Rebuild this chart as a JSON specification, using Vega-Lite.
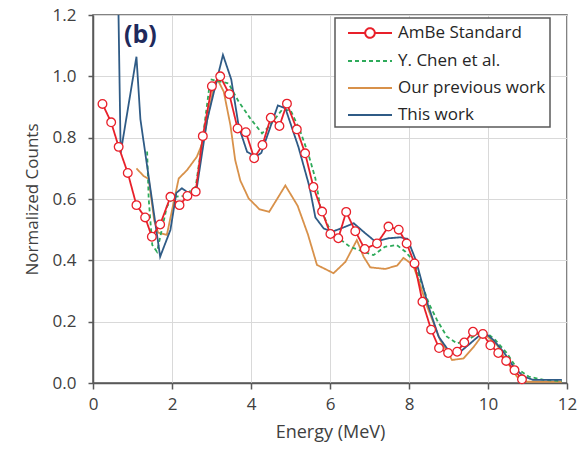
{
  "$schema": "https://vega.github.io/schema/vega-lite/v6.json",
  "width": 474,
  "height": 368,
  "autosize": {"type": "none"},
  "padding": {"left": 93, "top": 15, "right": 14, "bottom": 71},
  "background": "white",
  "config": {
    "font": "Open Sans",
    "view": {"stroke": "#595959", "strokeWidth": 1.5},
    "axis": {
      "domainColor": "#595959",
      "domainWidth": 1.5,
      "tickColor": "#595959",
      "tickWidth": 1.5,
      "gridColor": "#d9d9d9",
      "gridWidth": 1,
      "labelFontSize": 17,
      "labelColor": "#404040",
      "labelFlush": false,
      "labelOverlap": false,
      "labelBound": false,
      "titleFontSize": 17,
      "titleFontWeight": "normal",
      "titleColor": "#404040"
    }
  },
  "datasets": {
    "curves": [
      {"series": "Our previous work", "energy": 1.10, "counts": 0.70},
      {"series": "Our previous work", "energy": 1.28, "counts": 0.675},
      {"series": "Our previous work", "energy": 1.41, "counts": 0.665},
      {"series": "Our previous work", "energy": 1.55, "counts": 0.53},
      {"series": "Our previous work", "energy": 1.65, "counts": 0.49},
      {"series": "Our previous work", "energy": 1.87, "counts": 0.483},
      {"series": "Our previous work", "energy": 2.17, "counts": 0.667},
      {"series": "Our previous work", "energy": 2.38, "counts": 0.694},
      {"series": "Our previous work", "energy": 2.63, "counts": 0.738},
      {"series": "Our previous work", "energy": 2.80, "counts": 0.792},
      {"series": "Our previous work", "energy": 2.89, "counts": 0.857},
      {"series": "Our previous work", "energy": 3.05, "counts": 0.96},
      {"series": "Our previous work", "energy": 3.16, "counts": 0.988},
      {"series": "Our previous work", "energy": 3.31, "counts": 0.95},
      {"series": "Our previous work", "energy": 3.48, "counts": 0.84},
      {"series": "Our previous work", "energy": 3.60, "counts": 0.727},
      {"series": "Our previous work", "energy": 3.73, "counts": 0.66},
      {"series": "Our previous work", "energy": 3.94, "counts": 0.602},
      {"series": "Our previous work", "energy": 4.21, "counts": 0.567},
      {"series": "Our previous work", "energy": 4.46, "counts": 0.558},
      {"series": "Our previous work", "energy": 4.87, "counts": 0.644},
      {"series": "Our previous work", "energy": 5.18, "counts": 0.578},
      {"series": "Our previous work", "energy": 5.44, "counts": 0.485},
      {"series": "Our previous work", "energy": 5.67, "counts": 0.385},
      {"series": "Our previous work", "energy": 6.09, "counts": 0.358},
      {"series": "Our previous work", "energy": 6.39, "counts": 0.395},
      {"series": "Our previous work", "energy": 6.68, "counts": 0.466},
      {"series": "Our previous work", "energy": 6.85, "counts": 0.412},
      {"series": "Our previous work", "energy": 7.02, "counts": 0.377},
      {"series": "Our previous work", "energy": 7.40, "counts": 0.372},
      {"series": "Our previous work", "energy": 7.70, "counts": 0.383},
      {"series": "Our previous work", "energy": 7.86, "counts": 0.408},
      {"series": "Our previous work", "energy": 8.10, "counts": 0.385},
      {"series": "Our previous work", "energy": 8.24, "counts": 0.336},
      {"series": "Our previous work", "energy": 8.46, "counts": 0.249},
      {"series": "Our previous work", "energy": 8.79, "counts": 0.14},
      {"series": "Our previous work", "energy": 9.09, "counts": 0.075},
      {"series": "Our previous work", "energy": 9.38, "counts": 0.08},
      {"series": "Our previous work", "energy": 9.64, "counts": 0.118},
      {"series": "Our previous work", "energy": 9.89, "counts": 0.162},
      {"series": "Our previous work", "energy": 10.23, "counts": 0.124},
      {"series": "Our previous work", "energy": 10.48, "counts": 0.069},
      {"series": "Our previous work", "energy": 10.73, "counts": 0.021},
      {"series": "Our previous work", "energy": 10.99, "counts": 0.004},
      {"series": "Our previous work", "energy": 11.87, "counts": 0.004},

      {"series": "Y. Chen et al.", "energy": 1.37, "counts": 0.755},
      {"series": "Y. Chen et al.", "energy": 1.41, "counts": 0.6},
      {"series": "Y. Chen et al.", "energy": 1.50, "counts": 0.45},
      {"series": "Y. Chen et al.", "energy": 1.62, "counts": 0.428},
      {"series": "Y. Chen et al.", "energy": 1.87, "counts": 0.575},
      {"series": "Y. Chen et al.", "energy": 2.04, "counts": 0.607},
      {"series": "Y. Chen et al.", "energy": 2.30, "counts": 0.61},
      {"series": "Y. Chen et al.", "energy": 2.60, "counts": 0.64},
      {"series": "Y. Chen et al.", "energy": 2.80, "counts": 0.82},
      {"series": "Y. Chen et al.", "energy": 2.97, "counts": 0.99},
      {"series": "Y. Chen et al.", "energy": 3.43, "counts": 0.977},
      {"series": "Y. Chen et al.", "energy": 3.69, "counts": 0.917},
      {"series": "Y. Chen et al.", "energy": 3.98, "counts": 0.863},
      {"series": "Y. Chen et al.", "energy": 4.28, "counts": 0.814},
      {"series": "Y. Chen et al.", "energy": 4.45, "counts": 0.836},
      {"series": "Y. Chen et al.", "energy": 4.78, "counts": 0.89},
      {"series": "Y. Chen et al.", "energy": 5.00, "counts": 0.89},
      {"series": "Y. Chen et al.", "energy": 5.25, "counts": 0.82},
      {"series": "Y. Chen et al.", "energy": 5.46, "counts": 0.743},
      {"series": "Y. Chen et al.", "energy": 5.63, "counts": 0.667},
      {"series": "Y. Chen et al.", "energy": 5.76, "counts": 0.57},
      {"series": "Y. Chen et al.", "energy": 5.96, "counts": 0.51},
      {"series": "Y. Chen et al.", "energy": 6.22, "counts": 0.472},
      {"series": "Y. Chen et al.", "energy": 6.51, "counts": 0.444},
      {"series": "Y. Chen et al.", "energy": 6.85, "counts": 0.428},
      {"series": "Y. Chen et al.", "energy": 7.10, "counts": 0.417},
      {"series": "Y. Chen et al.", "energy": 7.39, "counts": 0.444},
      {"series": "Y. Chen et al.", "energy": 7.69, "counts": 0.45},
      {"series": "Y. Chen et al.", "energy": 7.91, "counts": 0.428},
      {"series": "Y. Chen et al.", "energy": 8.12, "counts": 0.397},
      {"series": "Y. Chen et al.", "energy": 8.29, "counts": 0.336},
      {"series": "Y. Chen et al.", "energy": 8.50, "counts": 0.26},
      {"series": "Y. Chen et al.", "energy": 8.71, "counts": 0.205},
      {"series": "Y. Chen et al.", "energy": 8.96, "counts": 0.151},
      {"series": "Y. Chen et al.", "energy": 9.22, "counts": 0.129},
      {"series": "Y. Chen et al.", "energy": 9.47, "counts": 0.14},
      {"series": "Y. Chen et al.", "energy": 9.76, "counts": 0.162},
      {"series": "Y. Chen et al.", "energy": 9.93, "counts": 0.167},
      {"series": "Y. Chen et al.", "energy": 10.19, "counts": 0.14},
      {"series": "Y. Chen et al.", "energy": 10.48, "counts": 0.097},
      {"series": "Y. Chen et al.", "energy": 10.73, "counts": 0.048},
      {"series": "Y. Chen et al.", "energy": 11.03, "counts": 0.021},
      {"series": "Y. Chen et al.", "energy": 11.41, "counts": 0.01},
      {"series": "Y. Chen et al.", "energy": 11.87, "counts": 0.006},

      {"series": "This work", "energy": 0.61, "counts": 1.5},
      {"series": "This work", "energy": 0.70, "counts": 0.75},
      {"series": "This work", "energy": 1.10, "counts": 1.064},
      {"series": "This work", "energy": 1.20, "counts": 0.86},
      {"series": "This work", "energy": 1.70, "counts": 0.412},
      {"series": "This work", "energy": 1.96, "counts": 0.499},
      {"series": "This work", "energy": 2.11, "counts": 0.62},
      {"series": "This work", "energy": 2.25, "counts": 0.635},
      {"series": "This work", "energy": 2.46, "counts": 0.616},
      {"series": "This work", "energy": 2.62, "counts": 0.63},
      {"series": "This work", "energy": 2.89, "counts": 0.858},
      {"series": "This work", "energy": 3.29, "counts": 1.07},
      {"series": "This work", "energy": 3.50, "counts": 0.99},
      {"series": "This work", "energy": 3.69, "counts": 0.836},
      {"series": "This work", "energy": 3.90, "counts": 0.754},
      {"series": "This work", "energy": 4.11, "counts": 0.738},
      {"series": "This work", "energy": 4.26, "counts": 0.75},
      {"series": "This work", "energy": 4.68, "counts": 0.905},
      {"series": "This work", "energy": 4.87, "counts": 0.896},
      {"series": "This work", "energy": 5.20, "counts": 0.77},
      {"series": "This work", "energy": 5.48, "counts": 0.64},
      {"series": "This work", "energy": 5.63, "counts": 0.54},
      {"series": "This work", "energy": 5.84, "counts": 0.504},
      {"series": "This work", "energy": 6.05, "counts": 0.493},
      {"series": "This work", "energy": 6.34, "counts": 0.507},
      {"series": "This work", "energy": 6.60, "counts": 0.521},
      {"series": "This work", "energy": 6.85, "counts": 0.493},
      {"series": "This work", "energy": 7.15, "counts": 0.461},
      {"series": "This work", "energy": 7.48, "counts": 0.472},
      {"series": "This work", "energy": 7.78, "counts": 0.475},
      {"series": "This work", "energy": 7.96, "counts": 0.47},
      {"series": "This work", "energy": 8.18, "counts": 0.398},
      {"series": "This work", "energy": 8.48, "counts": 0.255},
      {"series": "This work", "energy": 8.75, "counts": 0.151},
      {"series": "This work", "energy": 9.05, "counts": 0.097},
      {"series": "This work", "energy": 9.30, "counts": 0.102},
      {"series": "This work", "energy": 9.55, "counts": 0.129},
      {"series": "This work", "energy": 9.89, "counts": 0.167},
      {"series": "This work", "energy": 10.14, "counts": 0.14},
      {"series": "This work", "energy": 10.39, "counts": 0.102},
      {"series": "This work", "energy": 10.65, "counts": 0.053},
      {"series": "This work", "energy": 10.90, "counts": 0.021},
      {"series": "This work", "energy": 11.15, "counts": 0.01},
      {"series": "This work", "energy": 11.87, "counts": 0.01},

      {"series": "AmBe Standard", "energy": 0.24, "counts": 0.91},
      {"series": "AmBe Standard", "energy": 0.46, "counts": 0.85},
      {"series": "AmBe Standard", "energy": 0.65, "counts": 0.77},
      {"series": "AmBe Standard", "energy": 0.88, "counts": 0.685},
      {"series": "AmBe Standard", "energy": 1.10, "counts": 0.58},
      {"series": "AmBe Standard", "energy": 1.32, "counts": 0.54},
      {"series": "AmBe Standard", "energy": 1.49, "counts": 0.477},
      {"series": "AmBe Standard", "energy": 1.70, "counts": 0.517},
      {"series": "AmBe Standard", "energy": 1.96, "counts": 0.607},
      {"series": "AmBe Standard", "energy": 2.19, "counts": 0.58},
      {"series": "AmBe Standard", "energy": 2.39, "counts": 0.61},
      {"series": "AmBe Standard", "energy": 2.60, "counts": 0.624},
      {"series": "AmBe Standard", "energy": 2.78, "counts": 0.805},
      {"series": "AmBe Standard", "energy": 3.01, "counts": 0.968},
      {"series": "AmBe Standard", "energy": 3.22, "counts": 1.0},
      {"series": "AmBe Standard", "energy": 3.45, "counts": 0.942},
      {"series": "AmBe Standard", "energy": 3.66, "counts": 0.83},
      {"series": "AmBe Standard", "energy": 3.87, "counts": 0.818},
      {"series": "AmBe Standard", "energy": 4.08, "counts": 0.733},
      {"series": "AmBe Standard", "energy": 4.29, "counts": 0.776},
      {"series": "AmBe Standard", "energy": 4.50, "counts": 0.865},
      {"series": "AmBe Standard", "energy": 4.72, "counts": 0.838},
      {"series": "AmBe Standard", "energy": 4.91, "counts": 0.911},
      {"series": "AmBe Standard", "energy": 5.16, "counts": 0.827},
      {"series": "AmBe Standard", "energy": 5.37, "counts": 0.749},
      {"series": "AmBe Standard", "energy": 5.58, "counts": 0.639},
      {"series": "AmBe Standard", "energy": 5.80, "counts": 0.559},
      {"series": "AmBe Standard", "energy": 6.01, "counts": 0.486},
      {"series": "AmBe Standard", "energy": 6.21, "counts": 0.472},
      {"series": "AmBe Standard", "energy": 6.41, "counts": 0.558},
      {"series": "AmBe Standard", "energy": 6.64, "counts": 0.495},
      {"series": "AmBe Standard", "energy": 6.88, "counts": 0.437},
      {"series": "AmBe Standard", "energy": 7.19, "counts": 0.455},
      {"series": "AmBe Standard", "energy": 7.48, "counts": 0.51},
      {"series": "AmBe Standard", "energy": 7.74, "counts": 0.5},
      {"series": "AmBe Standard", "energy": 7.94, "counts": 0.455},
      {"series": "AmBe Standard", "energy": 8.14, "counts": 0.39},
      {"series": "AmBe Standard", "energy": 8.34, "counts": 0.265},
      {"series": "AmBe Standard", "energy": 8.56, "counts": 0.174},
      {"series": "AmBe Standard", "energy": 8.76, "counts": 0.114},
      {"series": "AmBe Standard", "energy": 8.99, "counts": 0.098},
      {"series": "AmBe Standard", "energy": 9.22, "counts": 0.102},
      {"series": "AmBe Standard", "energy": 9.40, "counts": 0.132},
      {"series": "AmBe Standard", "energy": 9.62, "counts": 0.167},
      {"series": "AmBe Standard", "energy": 9.87, "counts": 0.16},
      {"series": "AmBe Standard", "energy": 10.06, "counts": 0.123},
      {"series": "AmBe Standard", "energy": 10.26, "counts": 0.098},
      {"series": "AmBe Standard", "energy": 10.46, "counts": 0.072},
      {"series": "AmBe Standard", "energy": 10.67, "counts": 0.042},
      {"series": "AmBe Standard", "energy": 10.86, "counts": 0.012}
    ],
    "note": [
      {"label": "(b)", "energy": 1.2, "counts": 1.135}
    ]
  },
  "layer": [
    {
      "data": {"name": "curves"},
      "mark": {"type": "line", "clip": true, "strokeWidth": 1.8},
      "encoding": {
        "x": {
          "field": "energy", "type": "quantitative",
          "scale": {"domain": [0, 12], "nice": false, "zero": false},
          "axis": {"title": "Energy (MeV)", "values": [0, 2, 4, 6, 8, 10, 12], "tickSize": 6, "labelPadding": 7, "titlePadding": 11, "titleFontSize": 18}
        },
        "y": {
          "field": "counts", "type": "quantitative",
          "scale": {"domain": [0, 1.2], "nice": false},
          "axis": {"title": "Normalized Counts", "values": [0, 0.2, 0.4, 0.6, 0.8, 1.0, 1.2], "format": ".1f", "tickSize": 5, "labelPadding": 12, "titlePadding": 11}
        },
        "color": {
          "field": "series", "type": "nominal",
          "scale": {
            "domain": ["AmBe Standard", "Y. Chen et al.", "Our previous work", "This work"],
            "range": ["#e8202a", "#2eaa5a", "#d8914a", "#2f5b86"]
          },
          "legend": {
            "title": null,
            "orient": "none",
            "legendX": 242,
            "legendY": 3,
            "symbolType": "M-2.2,0H2.2",
            "symbolSize": 400,
            "symbolStrokeWidth": 2,
            "symbolOffset": 20,
            "labelFontSize": 17,
            "labelColor": "#262626",
            "labelOffset": 17,
            "labelLimit": 300,
            "rowPadding": 8,
            "padding": 4,
            "strokeColor": "#595959",
            "fillColor": "white",
            "encode": {
              "symbols": {
                "update": {
                  "shape": {"signal": "datum.value === 'AmBe Standard' ? 'M-2.2,0H-0.48M0.48,0H2.2M0.48,0A0.48,0.48,0,1,1,-0.48,0A0.48,0.48,0,1,1,0.48,0' : 'M-2.2,0H2.2'"},
                  "fill": {"signal": "datum.value === 'AmBe Standard' ? 'white' : 'transparent'"}
                }
              },
              "legend": {
                "update": {
                  "strokeWidth": {"value": 1.5}
                }
              }
            }
          }
        },
        "strokeDash": {
          "field": "series", "type": "nominal",
          "scale": {
            "domain": ["AmBe Standard", "Y. Chen et al.", "Our previous work", "This work"],
            "range": [[1, 0], [4, 3], [1, 0], [1, 0]]
          },
          "legend": null
        }
      }
    },
    {
      "data": {"name": "curves"},
      "transform": [{"filter": "datum.series === 'AmBe Standard'"}],
      "mark": {"type": "point", "shape": "circle", "filled": true, "fill": "white", "stroke": "#e8202a", "strokeWidth": 1.3, "size": 75, "opacity": 1},
      "encoding": {
        "x": {"field": "energy", "type": "quantitative"},
        "y": {"field": "counts", "type": "quantitative"}
      }
    },
    {
      "data": {"name": "note"},
      "mark": {"type": "text", "font": "Open Sans", "fontSize": 25, "fontWeight": "bold", "color": "#1f2a5c", "align": "center", "baseline": "middle"},
      "encoding": {
        "x": {"field": "energy", "type": "quantitative"},
        "y": {"field": "counts", "type": "quantitative"},
        "text": {"field": "label"}
      }
    }
  ]
}
